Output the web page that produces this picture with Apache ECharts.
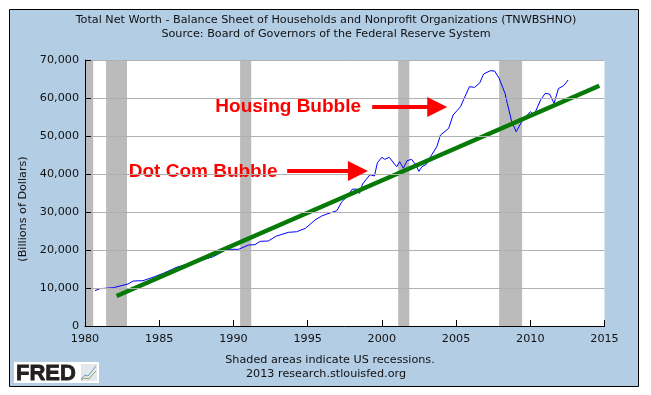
<!DOCTYPE html>
<html>
<head>
<meta charset="utf-8">
<style>
  html, body { margin: 0; padding: 0; background: #fff; }
  #chart { width: 651px; height: 395px; }
</style>
<script src="https://cdn.jsdelivr.net/npm/echarts@6/dist/echarts.min.js"></script>
</head>
<body>
<div id="chart"></div>
<script>
// values
var netWorthYears = [1980.67, 1981, 1981.9, 1982.36, 1982.9, 1983.25, 1983.9, 1984.7, 1985.3, 1986.2, 1987.5, 1988.65, 1989.55, 1990.35, 1991, 1991.45, 1991.8, 1992.35, 1992.9, 1993.7, 1994.25, 1994.85, 1995.5, 1995.95, 1996.3, 1996.97, 1997.3, 1997.65, 1998, 1998.3, 1998.5, 1998.7, 1999.2, 1999.5, 1999.7, 2000, 2000.2, 2000.5, 2001, 2001.2, 2001.45, 2001.7, 2002, 2002.25, 2002.5, 2002.7, 2003, 2003.35, 2003.7, 2003.95, 2004.5, 2004.8, 2005.3, 2005.55, 2005.9, 2006.25, 2006.6, 2006.85, 2007.3, 2007.6, 2007.9, 2008.3, 2008.45, 2008.75, 2009.05, 2009.45, 2010, 2010.25, 2010.7, 2011, 2011.3, 2011.6, 2011.9, 2012.25, 2012.55];
var netWorthValues = [9290, 9820, 10080, 10530, 11050, 11840, 11920, 13000, 13900, 15500, 16920, 18240, 20180, 20180, 21300, 21400, 22280, 22370, 23680, 24650, 24800, 25700, 27900, 28950, 29470, 30350, 32700, 34000, 35970, 36050, 34900, 37370, 39820, 39470, 42970, 44390, 43860, 44390, 41920, 43240, 41500, 43500, 43860, 42630, 40700, 41920, 42550, 45000, 47180, 50260, 52000, 55530, 57700, 59920, 62970, 62800, 64000, 66300, 67180, 67100, 65180, 61200, 58600, 53760, 51130, 53950, 56400, 55530, 59500, 61200, 61050, 58600, 62500, 63240, 64740];
var trendYears = [1982.13, 2014.65];
var trendValues = [7900, 63240];
var recessionStarts = [1980, 1981.42, 1990.45, 2001.1, 2007.9];
var recessionEnds = [1980.55, 1982.83, 1991.2, 2001.85, 2009.45];
var titleLines = ['Total Net Worth - Balance Sheet of Households and Nonprofit Organizations (TNWBSHNO)', 'Source: Board of Governors of the Federal Reserve System'];
var footerLines = ['Shaded areas indicate US recessions.', '2013 research.stlouisfed.org'];
var axisName = '(Billions of Dollars)';
var notes = ['Housing Bubble', 'Dot Com Bubble'];

var font = 'DejaVu Sans';
var myChart = echarts.init(document.getElementById('chart'));

function zip(a, b) {
  return a.map(function (v, i) { return [v, b[i]]; });
}

function centerText(text, x, y) {
  return { text: text, left: x, top: y, textAlign: 'center', padding: 0,
    textStyle: { fontFamily: font, fontSize: 11.2, fontWeight: 'normal', color: '#111' } };
}

function arrow(x1, x2, y) {
  return {
    type: 'line', data: [], silent: true,
    markLine: {
      silent: true, animation: false, symbol: ['none', 'triangle'], symbolSize: [20, 20],
      lineStyle: { color: '#ff0000', width: 4, type: 'solid' }, label: { show: false },
      data: [[{ coord: [x1, y] }, { coord: [x2, y] }]]
    }
  };
}

function note(text, x, y) {
  return {
    type: 'scatter', symbolSize: 0, silent: true, data: [[x, y]],
    itemStyle: { opacity: 1 },
    label: { show: true, position: 'inside', opacity: 1, formatter: text, fontFamily: 'Liberation Sans', fontSize: 19, fontWeight: 'bold', color: '#ff0000' }
  };
}

var option = {
  animation: false,
  backgroundColor: '#ffffff',
  title: [
    centerText(titleLines[0], 326, 15),
    centerText(titleLines[1], 326, 29),
    centerText(footerLines[0], 330, 355),
    centerText(footerLines[1], 326, 369)
  ],
  graphic: [
    { type: 'rect', z: -10, silent: true, shape: { x: 9.5, y: 9.5, width: 629, height: 377 }, style: { fill: '#b3cde5', stroke: '#000', lineWidth: 1 } },
    { type: 'text', z: 10, silent: true, x: 23, y: 209, rotation: Math.PI / 2, style: { text: axisName, align: 'center', verticalAlign: 'middle', fontFamily: font, fontSize: 11.2, fill: '#111' } },
    { type: 'rect', z: 10, silent: true, shape: { x: 14, y: 362, width: 85, height: 21 }, style: { fill: '#fff' } },
    { type: 'text', z: 11, silent: true, x: 16, y: 363, style: { text: 'FRED', fontFamily: 'Liberation Sans', fontWeight: 'bold', fontSize: 22, fill: '#231f20', stroke: '#231f20', lineWidth: 0.8 } },
    { type: 'rect', z: 11, silent: true, shape: { x: 81, y: 364, width: 16, height: 17 }, style: { fill: '#e4e8ea' } },
    { type: 'polyline', z: 12, silent: true, shape: { points: [[81, 379], [85, 375], [88, 376], [92, 371], [96, 366]] }, style: { fill: 'none', stroke: '#6f9fc0', lineWidth: 1 } },
    { type: 'polyline', z: 12, silent: true, shape: { points: [[81, 380], [85, 378], [89, 379], [93, 374], [96, 371]] }, style: { fill: 'none', stroke: '#8aa86a', lineWidth: 1 } }
  ],
  grid: { left: 85, right: 46.5, top: 60, bottom: 69, show: true, backgroundColor: '#ffffff', borderWidth: 0 },
  xAxis: {
    type: 'value', min: 1980, max: 2015, interval: 5, z: 5,
    axisLine: { show: true, lineStyle: { color: '#000' } },
    axisTick: { show: true, inside: true, length: 6, lineStyle: { color: '#000' } },
    axisLabel: { color: '#111', fontFamily: font, fontSize: 11.2, margin: 8, formatter: function (v) { return String(v); } },
    splitLine: { show: false }
  },
  yAxis: {
    type: 'value', min: 0, max: 70000, interval: 10000, z: 5,
    axisLine: { show: true, lineStyle: { color: '#000' } },
    axisTick: { show: true, inside: true, length: 6, lineStyle: { color: '#000' } },
    axisLabel: { color: '#111', fontFamily: font, fontSize: 11.2, margin: 6, formatter: function (v) { return v.toLocaleString('en-US'); } },
    splitLine: { show: true, lineStyle: { color: '#b0b0b0', width: 1 } }
  },
  series: [
    {
      name: 'Recessions', type: 'line', data: [], silent: true,
      markArea: {
        silent: true, animation: false,
        itemStyle: { color: '#bbbbbb', opacity: 1 },
        data: recessionStarts.map(function (s, i) {
          return [{ xAxis: s }, { xAxis: recessionEnds[i] }];
        })
      }
    },
    {
      name: 'Net Worth', type: 'line', symbol: 'none', smooth: false,
      lineStyle: { color: '#0000ff', width: 1 },
      data: zip(netWorthYears, netWorthValues)
    },
    {
      name: 'Trend', type: 'line', symbol: 'none',
      lineStyle: { color: '#067a06', width: 4.5, cap: 'butt' },
      data: zip(trendYears, trendValues)
    },
    arrow(1999.35, 2003.73, 57630),
    arrow(1993.62, 1998.39, 40790),
    note(notes[0], 1993.69, 57630),
    note(notes[1], 1987.96, 40500)
  ]
};

myChart.setOption(option);
</script>
</body>
</html>
